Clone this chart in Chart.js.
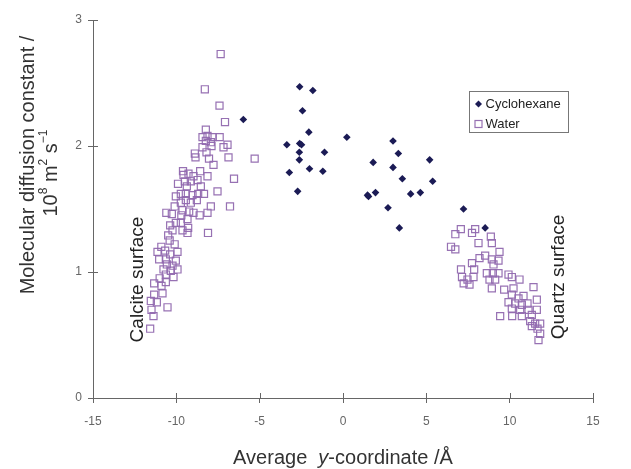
<!DOCTYPE html>
<html>
  <head>
    <meta charset="utf-8" />
    <title>Molecular diffusion constant</title>
    <script src="https://cdn.jsdelivr.net/npm/chart.js@4"></script>
    <style>
      body { margin: 0; background: #fff; }
    </style>
  </head>
  <body>
    <canvas id="diffusionCanvas" width="631" height="469"></canvas>
    <script>
      // values (average y-coordinate in Å, D in 10^8 m2 s-1)
      const cycloX = [-5.98, -2.6, -1.81, -2.43, -2.05, -3.37, -2.6, -2.49, -2.62, -1.11, -2.62, -3.22, -2.01, -1.21, -2.72,
        0.23, 3.0, 3.32, 1.81, 3.0, 5.2, 3.56, 5.38, 1.47, 1.53, 1.95, 4.06, 4.64, 2.7, 3.38, 7.23, 8.53];
      const cycloY = [2.21, 2.47, 2.44, 2.28, 2.11, 2.01, 2.02, 2.01, 1.95, 1.95, 1.89, 1.79, 1.82, 1.8, 1.64,
        2.07, 2.04, 1.94, 1.87, 1.83, 1.89, 1.74, 1.72, 1.61, 1.6, 1.63, 1.62, 1.63, 1.51, 1.35, 1.5, 1.35];

      const waterX = [-7.34, -8.29, -7.41, -7.08, -8.23, -8.43, -8.13, -7.83, -7.4, -8.23, -7.93, -8.43, -7.89, -7.17, -6.93,
        -8.89, -8.19, -8.85, -8.04, -6.87, -5.3, -7.77, -6.54, -7.53, -9.57, -9.27, -8.97, -8.57, -8.13, -9.49,
        -9.13, -8.73, -9.37, -8.53, -10.03, -9.73, -9.43, -9.03, -8.69, -8.34, -9.73, -9.43, -9.13, -8.77, -7.93,
        -6.78, -9.63, -9.23, -8.97, -8.13, -10.6, -10.27, -9.33, -10.37, -10.03, -9.73, -10.23, -9.63, -9.29, -9.33,
        -10.49, -8.1, -11.13, -10.67, -10.37, -9.93, -11.03, -10.63, -10.03, -10.57, -10.23, -10.77, -10.33, -9.93, -10.63,
        -10.17, -11.33, -10.89, -10.63, -10.83, -11.33, -11.53, -11.17, -10.53, -11.49, -11.37, -11.57,
        -9.9, -10.1, -9.6, -8.6, -10.9, -10.4, -11.0, -10.1, -9.7,
        6.74, 7.07, 7.74, 7.93, 8.87, 8.13, 8.93, 6.48, 6.74, 9.39, 8.19, 8.53, 8.93, 9.33, 7.74,
        7.08, 7.87, 9.03, 7.14, 7.47, 7.83, 8.63, 8.99, 9.33, 7.24, 7.59, 8.79, 9.13, 9.93, 10.13,
        10.59, 8.93, 9.67, 10.23, 11.43, 10.13, 10.53, 10.83, 9.93, 10.33, 10.73, 11.07, 11.63, 10.13, 10.63,
        11.13, 11.63, 9.43, 10.15, 10.73, 11.33, 11.23, 11.53, 11.83, 11.33, 11.67, 11.83, 11.73];
      const waterY = [2.73, 2.45, 2.32, 2.19, 2.13, 2.07, 2.08, 2.07, 2.07, 2.04, 2.03, 1.99, 2.0, 1.99, 2.01,
        1.94, 1.95, 1.91, 1.9, 1.91, 1.9, 1.85, 1.74, 1.64, 1.77, 1.78, 1.76, 1.8, 1.76, 1.72,
        1.72, 1.73, 1.68, 1.68, 1.6, 1.62, 1.62, 1.61, 1.62, 1.62, 1.55, 1.57, 1.55, 1.57, 1.52,
        1.52, 1.49, 1.48, 1.47, 1.47, 1.47, 1.46, 1.42, 1.37, 1.39, 1.39, 1.33, 1.33, 1.35, 1.31,
        1.29, 1.31, 1.16, 1.17, 1.14, 1.16, 1.1, 1.1, 1.09, 1.06, 1.05, 1.02, 1.01, 1.02, 0.98,
        0.96, 0.91, 0.89, 0.92, 0.83, 0.82, 0.77, 0.76, 0.72, 0.7, 0.65, 0.55,
        1.7, 1.52, 1.8, 1.45, 1.2, 1.25, 0.95, 1.22, 1.45,
        1.3, 1.34, 1.31, 1.34, 1.28, 1.23, 1.23, 1.2, 1.18, 1.16, 1.11, 1.13, 1.1, 1.09, 1.07,
        1.02, 1.02, 1.06, 0.96, 0.94, 0.96, 0.99, 0.99, 0.99, 0.91, 0.9, 0.94, 0.94, 0.98, 0.96,
        0.94, 0.87, 0.86, 0.87, 0.88, 0.82, 0.79, 0.81, 0.76, 0.75, 0.74, 0.75, 0.78, 0.71, 0.7,
        0.7, 0.7, 0.65, 0.65, 0.65, 0.66, 0.61, 0.59, 0.59, 0.57, 0.55, 0.51, 0.46];

      const xTicks = [-15, -10, -5, 0, 5, 10, 15];
      const yTicks = [0, 1, 2, 3];
      const seriesNames = ["Cyclohexane", "Water"];
      const surfaceLabels = [
        { text: "Calcite surface", x: -12.32, y: 0.94 },
        { text: "Quartz surface", x: 12.94, y: 0.96 },
      ];

      const navy = "#1b1b55";
      const lilac = "rgba(145,105,175,0.95)";
      const fontFamily = '"Liberation Sans", Arial, sans-serif';

      function toPoints(xs, ys) {
        return xs.map((x, i) => ({ x: x, y: ys[i] }));
      }

      // draws text made of runs, some of them superscript
      function drawRuns(ctx, runs, size, cx, cy) {
        const widths = runs.map((r) => {
          ctx.font = (r.italic ? "italic " : "") + (r.sup ? size * 0.6 : size) + "px " + fontFamily;
          return ctx.measureText(r.t).width;
        });
        const total = widths.reduce((a, b) => a + b, 0);
        let x = cx - total / 2;
        ctx.textAlign = "left";
        ctx.textBaseline = "middle";
        runs.forEach((r, i) => {
          ctx.font = (r.italic ? "italic " : "") + (r.sup ? size * 0.6 : size) + "px " + fontFamily;
          ctx.fillText(r.t, x, r.sup ? cy - size * 0.38 : cy);
          x += widths[i];
        });
      }

      const decorations = {
        id: "decorations",
        afterDraw(chart) {
          const ctx = chart.ctx;
          const xs = chart.scales.x;
          const ys = chart.scales.y;
          ctx.save();

          // inner half of the crossing tick marks
          ctx.strokeStyle = "#666";
          ctx.lineWidth = 1;
          ctx.beginPath();
          xTicks.forEach((v) => {
            const px = Math.round(xs.getPixelForValue(v)) + 0.5;
            ctx.moveTo(px, ys.bottom);
            ctx.lineTo(px, ys.bottom - 5);
          });
          yTicks.forEach((v) => {
            const py = Math.round(ys.getPixelForValue(v)) + 0.5;
            ctx.moveTo(xs.left, py);
            ctx.lineTo(xs.left + 5, py);
          });
          ctx.stroke();

          // surface labels, rotated
          ctx.fillStyle = "#222";
          ctx.font = "19px " + fontFamily;
          ctx.textAlign = "center";
          ctx.textBaseline = "middle";
          surfaceLabels.forEach((s) => {
            ctx.save();
            ctx.translate(xs.getPixelForValue(s.x), ys.getPixelForValue(s.y));
            ctx.rotate(-Math.PI / 2);
            ctx.fillText(s.text, 0, 0);
            ctx.restore();
          });

          // y axis title, two lines
          ctx.fillStyle = "#333";
          ctx.save();
          ctx.translate(28, 165);
          ctx.rotate(-Math.PI / 2);
          drawRuns(ctx, [{ t: "Molecular diffusion constant /" }], 20, 0, 0);
          ctx.restore();
          ctx.save();
          ctx.translate(51, 173);
          ctx.rotate(-Math.PI / 2);
          drawRuns(ctx, [{ t: "10" }, { t: "8", sup: true }, { t: " m" }, { t: "2", sup: true }, { t: " s" }, { t: "\u22121", sup: true }], 20, 0, 0);
          ctx.restore();

          // x axis title
          drawRuns(ctx, [{ t: "Average  " }, { t: "y", italic: true }, { t: "-coordinate /\u00c5" }], 20, 343, 458);

          // legend box
          const lx = 469.5, ly = 91.5;
          ctx.strokeStyle = "#777";
          ctx.strokeRect(lx, ly, 99, 41);
          ctx.fillStyle = navy;
          ctx.beginPath();
          ctx.moveTo(lx + 9, ly + 9);
          ctx.lineTo(lx + 12.5, ly + 12.5);
          ctx.lineTo(lx + 9, ly + 16);
          ctx.lineTo(lx + 5.5, ly + 12.5);
          ctx.closePath();
          ctx.fill();
          ctx.strokeStyle = lilac;
          ctx.lineWidth = 1.2;
          ctx.strokeRect(lx + 5.5, ly + 29, 7, 7);
          ctx.fillStyle = "#222";
          ctx.font = "13px " + fontFamily;
          ctx.textAlign = "left";
          ctx.textBaseline = "middle";
          ctx.fillText(seriesNames[0], lx + 16, ly + 13);
          ctx.fillText(seriesNames[1], lx + 16, ly + 33);

          ctx.restore();
        },
      };

      const ctx = document.getElementById("diffusionCanvas").getContext("2d");
      const diffusionChart = new Chart(ctx, {
        type: "scatter",
        data: {
          datasets: [
            {
              label: seriesNames[1],
              data: toPoints(waterX, waterY),
              pointStyle: "rect",
              pointRadius: 5,
              borderColor: lilac,
              backgroundColor: "rgba(0,0,0,0)",
              borderWidth: 1.2,
            },
            {
              label: seriesNames[0],
              data: toPoints(cycloX, cycloY),
              pointStyle: "rectRot",
              pointRadius: 3.8,
              borderColor: navy,
              backgroundColor: navy,
              borderWidth: 0,
            },
          ],
        },
        options: {
          responsive: false,
          animation: false,
          layout: { padding: { left: 0, right: 38, top: 20, bottom: 0 } },
          plugins: {
            legend: { display: false },
            tooltip: { enabled: false },
          },
          scales: {
            x: {
              type: "linear",
              min: -15,
              max: 15,
              ticks: { stepSize: 5, color: "#666", font: { size: 12, family: fontFamily }, padding: 11 },
              grid: { drawOnChartArea: false, tickLength: 5, color: "#666" },
              border: { color: "#666" },
              afterFit(scale) {
                scale.height = 71;
              },
            },
            y: {
              min: 0,
              max: 3,
              ticks: { stepSize: 1, color: "#666", font: { size: 12, family: fontFamily }, padding: 6 },
              grid: { drawOnChartArea: false, tickLength: 5, color: "#666" },
              border: { color: "#666" },
              afterFit(scale) {
                scale.width = 93;
              },
            },
          },
        },
        plugins: [decorations],
      });
    </script>
  </body>
</html>
